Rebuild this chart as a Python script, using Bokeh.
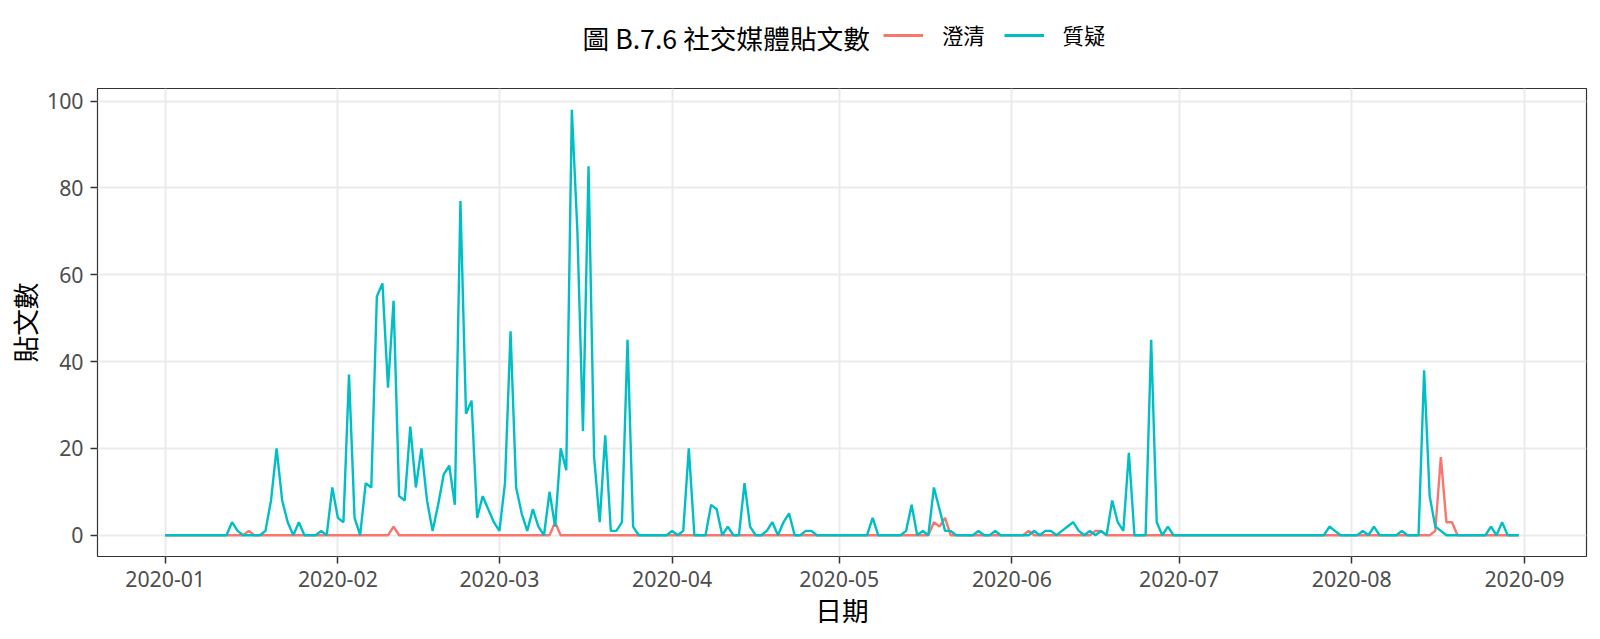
import pandas as pd
from bokeh.plotting import figure
from bokeh.layouts import column
from bokeh.core.properties import value
from bokeh.models import (Range1d, FixedTicker, DatetimeTickFormatter, Legend,
                          LegendItem, ColumnDataSource)
from bokeh.embed import file_html
from bokeh.resources import INLINE

# ---------------- data ----------------
start_date = "2020-01-01"
end_date = "2020-08-31"
legend_title = "圖 B.7.6 社交媒體貼文數"
series_names = ["澄清", "質疑"]
series_colors = ["#F8766D", "#00BFC4"]
x_title = "日期"
y_title = "貼文數"

# 澄清 (daily counts, Jan..Aug)
clarify_jan = [0, 0, 0, 0, 0, 0, 0, 0, 0, 0, 0, 0, 0, 0, 0, 1, 0, 0, 0, 0, 0, 0, 0, 0, 0, 0, 0, 0, 0, 0, 0]
clarify_feb = [0, 0, 0, 0, 0, 0, 0, 0, 0, 0, 2, 0, 0, 0, 0, 0, 0, 0, 0, 0, 0, 0, 0, 0, 0, 0, 0, 0, 0]
clarify_mar = [0, 0, 0, 0, 0, 0, 0, 0, 0, 0, 3, 0, 0, 0, 0, 0, 0, 0, 0, 0, 0, 0, 0, 0, 0, 0, 0, 0, 0, 0, 0]
clarify_apr = [0, 0, 0, 0, 0, 0, 0, 0, 0, 0, 0, 0, 0, 0, 0, 0, 0, 0, 0, 0, 0, 0, 0, 0, 0, 0, 0, 0, 0, 0]
clarify_may = [0, 0, 0, 0, 0, 0, 0, 0, 0, 0, 0, 0, 0, 0, 0, 0, 0, 3, 2, 4, 0, 0, 0, 0, 0, 0, 0, 0, 0, 0, 0]
clarify_jun = [0, 0, 0, 1, 0, 0, 0, 0, 0, 0, 0, 0, 0, 0, 0, 1, 1, 0, 0, 0, 0, 0, 0, 0, 0, 0, 0, 0, 0, 0]
clarify_jul = [0, 0, 0, 0, 0, 0, 0, 0, 0, 0, 0, 0, 0, 0, 0, 0, 0, 0, 0, 0, 0, 0, 0, 0, 0, 0, 0, 0, 0, 0, 0]
clarify_aug = [0, 0, 0, 0, 0, 0, 0, 0, 0, 0, 0, 0, 0, 0, 0, 1, 18, 3, 3, 0, 0, 0, 0, 0, 0, 0, 0, 0, 0, 0, 0]

# 質疑 (daily counts, Jan..Aug)
question_jan = [0, 0, 0, 0, 0, 0, 0, 0, 0, 0, 0, 0, 3, 1, 0, 0, 0, 0, 1, 8, 20, 8, 3, 0, 3, 0, 0, 0, 1, 0, 11]
question_feb = [4, 3, 37, 4, 0, 12, 11, 55, 58, 34, 54, 9, 8, 25, 11, 20, 8, 1, 7, 14, 16, 7, 77, 28, 31, 4, 9, 6, 3]
question_mar = [1, 12, 47, 11, 5, 1, 6, 2, 0, 10, 2, 20, 15, 98, 70, 24, 85, 18, 3, 23, 1, 1, 3, 45, 2, 0, 0, 0, 0, 0, 0]
question_apr = [1, 0, 1, 20, 0, 0, 0, 7, 6, 0, 2, 0, 0, 12, 2, 0, 0, 1, 3, 0, 3, 5, 0, 0, 1, 1, 0, 0, 0, 0]
question_may = [0, 0, 0, 0, 0, 0, 4, 0, 0, 0, 0, 0, 1, 7, 0, 1, 0, 11, 6, 1, 1, 0, 0, 0, 0, 1, 0, 0, 1, 0, 0]
question_jun = [0, 0, 0, 0, 1, 0, 1, 1, 0, 1, 2, 3, 1, 0, 1, 0, 1, 0, 8, 3, 1, 19, 0, 0, 0, 45, 3, 0, 2, 0]
question_jul = [0, 0, 0, 0, 0, 0, 0, 0, 0, 0, 0, 0, 0, 0, 0, 0, 0, 0, 0, 0, 0, 0, 0, 0, 0, 0, 0, 2, 1, 0, 0]
question_aug = [0, 0, 1, 0, 2, 0, 0, 0, 0, 1, 0, 0, 0, 38, 9, 2, 1, 0, 0, 0, 0, 0, 0, 0, 0, 2, 0, 3, 0, 0, 0]

x_tick_labels = ["2020-01", "2020-02", "2020-03", "2020-04", "2020-05",
                 "2020-06", "2020-07", "2020-08", "2020-09"]
y_ticks = [0, 20, 40, 60, 80, 100]

# ---------------- build ----------------
dates = pd.date_range(start_date, end_date, freq="D")
clarify = (clarify_jan + clarify_feb + clarify_mar + clarify_apr +
           clarify_may + clarify_jun + clarify_jul + clarify_aug)
question = (question_jan + question_feb + question_mar + question_apr +
            question_may + question_jun + question_jul + question_aug)

src = ColumnDataSource(dict(date=dates, clarify=clarify, question=question))

span_days = (dates[-1] - dates[0]).days
pad = pd.Timedelta(days=span_days * 0.05)
ymax = max(max(clarify), max(question))
ypad = ymax * 0.05

CJK = "Noto Sans CJK TC"
LAT = "Noto Sans"
W = 1592
TOP_H = 80
MAIN_H = 559
BORDER_L = 97
BORDER_R = 6
LINE_W = 2.4
SMALL = "21.3px"
BIG = "26.7px"

# ---------- main plot ----------
p = figure(width=W, height=MAIN_H, x_axis_type="datetime",
           output_backend="svg", toolbar_location=None,
           min_border_left=BORDER_L, min_border_right=BORDER_R,
           min_border_top=8, min_border_bottom=83,
           x_range=Range1d(dates[0] - pad, dates[-1] + pad),
           y_range=Range1d(-ypad, ymax + ypad))

p.background_fill_color = "white"
p.border_fill_color = "white"
p.outline_line_color = "#333333"
p.outline_line_width = 1.2

tick_ms = [pd.Timestamp(t + "-01").value / 1e6 for t in x_tick_labels]
p.xaxis.ticker = FixedTicker(ticks=tick_ms)
p.xaxis.formatter = DatetimeTickFormatter(
    milliseconds="%Y-%m", seconds="%Y-%m", minsec="%Y-%m", minutes="%Y-%m",
    hourmin="%Y-%m", hours="%Y-%m", days="%Y-%m", months="%Y-%m", years="%Y-%m")
p.yaxis.ticker = FixedTicker(ticks=y_ticks)

for ax in (p.xaxis[0], p.yaxis[0]):
    ax.axis_line_color = None
    ax.major_tick_line_color = "#333333"
    ax.major_tick_line_width = 1.5
    ax.major_tick_out = 7
    ax.major_tick_in = 0
    ax.minor_tick_line_color = None
    ax.major_label_text_font = LAT
    ax.major_label_text_font_size = SMALL
    ax.major_label_text_color = "#4D4D4D"
    ax.axis_label_text_font = CJK
    ax.axis_label_text_font_size = BIG
    ax.axis_label_text_font_style = "normal"
    ax.axis_label_text_color = "#000000"

p.xaxis.axis_label = x_title
p.yaxis.axis_label = y_title
p.xaxis.major_label_standoff = 7
p.yaxis.major_label_standoff = 7
p.xaxis.axis_label_standoff = 0
p.yaxis.axis_label_standoff = 0

p.xgrid.grid_line_color = "#EBEBEB"
p.ygrid.grid_line_color = "#EBEBEB"
p.xgrid.grid_line_width = 2
p.ygrid.grid_line_width = 2

p.line("date", "clarify", source=src, line_color=series_colors[0], line_width=LINE_W)
p.line("date", "question", source=src, line_color=series_colors[1], line_width=LINE_W)

# ---------- legend strip on top (frame aligned with the main frame) ----------
top = figure(width=W, height=TOP_H, output_backend="svg", toolbar_location=None,
             min_border_left=BORDER_L, min_border_right=BORDER_R,
             min_border_top=0, min_border_bottom=0,
             x_range=Range1d(BORDER_L, W - BORDER_R), y_range=Range1d(0, TOP_H))
top.axis.visible = False
top.grid.visible = False
top.outline_line_color = None
top.background_fill_color = "white"
top.border_fill_color = "white"

top.text(x=[582], y=[TOP_H - 37], text=[legend_title], text_font=value(CJK),
         text_font_size=BIG, text_color="#000000", text_baseline="middle",
         text_align="left")

# legend proxies (share the data; they fall outside this strip's ranges)
k_red = top.line("date", "clarify", source=src, line_color=series_colors[0],
                 line_width=LINE_W + 0.4)
k_teal = top.line("date", "question", source=src, line_color=series_colors[1],
                  line_width=LINE_W + 0.4)

legend = Legend(items=[LegendItem(label=series_names[0], renderers=[k_red]),
                       LegendItem(label=series_names[1], renderers=[k_teal])],
                orientation="horizontal", location=(883 - BORDER_L, 30),
                glyph_width=40, glyph_height=20, label_standoff=19, spacing=19,
                padding=0, margin=0, border_line_alpha=0, background_fill_alpha=0,
                label_text_font=CJK, label_text_font_size=SMALL,
                label_text_color="#000000")
top.add_layout(legend, "center")

layout = column(top, p, spacing=0)
open("out.html", "w").write(file_html(layout, INLINE))
